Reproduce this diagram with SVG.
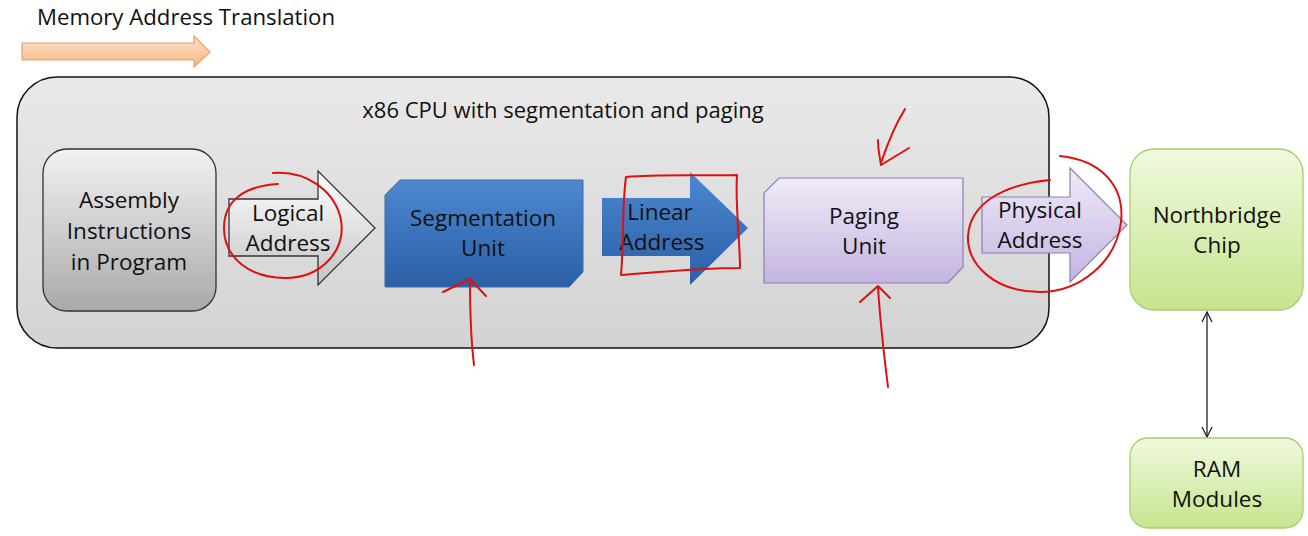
<svg xmlns="http://www.w3.org/2000/svg" width="1308" height="536" viewBox="0 0 1308 536">
<defs>
<linearGradient id="gCont" x1="0" y1="0" x2="0" y2="1"><stop offset="0" stop-color="#e9e9e9"/><stop offset="1" stop-color="#d3d3d3"/></linearGradient>
<linearGradient id="gAsm" x1="0" y1="0" x2="0" y2="1"><stop offset="0" stop-color="#f2f2f2"/><stop offset="1" stop-color="#a9a9a9"/></linearGradient>
<linearGradient id="gLog" x1="0" y1="0" x2="0" y2="1"><stop offset="0" stop-color="#ffffff"/><stop offset="1" stop-color="#c4c4c4"/></linearGradient>
<linearGradient id="gBlue" x1="0" y1="0" x2="0" y2="1"><stop offset="0" stop-color="#4d88d0"/><stop offset="1" stop-color="#2a5fa6"/></linearGradient>
<linearGradient id="gPurp" x1="0" y1="0" x2="0" y2="1"><stop offset="0" stop-color="#f0ebf8"/><stop offset="1" stop-color="#c4b4e0"/></linearGradient>
<linearGradient id="gGreen" x1="0" y1="0" x2="0" y2="1"><stop offset="0" stop-color="#f0f9de"/><stop offset="1" stop-color="#c6e48e"/></linearGradient>
<linearGradient id="gOrange" x1="0" y1="0" x2="0" y2="1"><stop offset="0" stop-color="#fde3cc"/><stop offset="1" stop-color="#f6b584"/></linearGradient>
<marker id="open" viewBox="0 0 12 12" refX="11" refY="6" markerWidth="12" markerHeight="12" orient="auto-start-reverse" markerUnits="userSpaceOnUse">
<path d="M1,1 L11,6 L1,11" fill="none" stroke="#222" stroke-width="1.3"/>
</marker>
</defs>
<style>
text{font-family:"Open Sans","Liberation Sans",sans-serif;fill:#111;}
.lbl{font-size:22.5px;text-anchor:middle;}
.red{fill:none;stroke:#e01010;stroke-width:2;stroke-linecap:round;stroke-linejoin:round;}
</style>
<rect width="1308" height="536" fill="#ffffff"/>

<g id="header">
<text x="37" y="25" style="font-size:22.2px">Memory Address Translation</text>
<path d="M22,43 H194 V36 L210,52 L194,67 V60 H22 Z" fill="url(#gOrange)" stroke="#eba06a" stroke-width="1.2"/>
</g>

<g id="cpu">
<rect x="17" y="77" width="1032" height="271" rx="40" fill="url(#gCont)" stroke="#111" stroke-width="1.5"/>
<text x="563" y="118" class="lbl" style="font-size:22px">x86 CPU with segmentation and paging</text>
</g>

<g id="assembly">
<rect x="43" y="149" width="173" height="162" rx="24" fill="url(#gAsm)" stroke="#333" stroke-width="1.3"/>
<text class="lbl"><tspan x="129" y="208">Assembly</tspan><tspan x="129" y="239">Instructions</tspan><tspan x="129" y="270">in Program</tspan></text>
</g>

<g id="connectors">
<g id="logical">
<path d="M229,199 H318 V171 L375,228 L318,285 V256 H229 Z" fill="url(#gLog)" stroke="#333" stroke-width="1.3"/>
<text class="lbl"><tspan x="288" y="221">Logical</tspan><tspan x="288" y="251">Address</tspan></text>
</g>
<g id="linear">
<path d="M602,198 H690 V172 L748,228 L690,285 V256 H602 Z" fill="url(#gBlue)"/>
<text class="lbl"><tspan x="660" y="220">Linear</tspan><tspan x="662" y="250">Address</tspan></text>
</g>
<g id="physical">
<path d="M982,197 H1070 V168 L1127,225 L1070,282 V253 H982 Z" fill="url(#gPurp)" stroke="#8d7fb5" stroke-width="1.2"/>
<text class="lbl"><tspan x="1040" y="218">Physical</tspan><tspan x="1040" y="248">Address</tspan></text>
</g>
<line x1="1207" y1="312" x2="1207" y2="437" stroke="#222" stroke-width="1.3" marker-start="url(#open)" marker-end="url(#open)"/>
</g>

<g id="segmentation">
<path d="M400,180 H583 V272 L569,287 H385 V195 Z" fill="url(#gBlue)" stroke="#3a6cae" stroke-width="1"/>
<text class="lbl"><tspan x="483" y="226">Segmentation</tspan><tspan x="483" y="256">Unit</tspan></text>
</g>

<g id="paging">
<path d="M779,178 H963 V267 L948,283 H764 V193 Z" fill="url(#gPurp)" stroke="#8d7fb5" stroke-width="1.2"/>
<text class="lbl"><tspan x="864" y="224">Paging</tspan><tspan x="864" y="254">Unit</tspan></text>
</g>

<g id="northbridge">
<rect x="1130" y="149" width="173" height="161" rx="24" fill="url(#gGreen)" stroke="#a9cc6e" stroke-width="1.3"/>
<text class="lbl"><tspan x="1217" y="223">Northbridge</tspan><tspan x="1217" y="253">Chip</tspan></text>
</g>

<g id="ram">
<rect x="1130" y="438" width="173" height="90" rx="18" fill="url(#gGreen)" stroke="#a9cc6e" stroke-width="1.3"/>
<text class="lbl"><tspan x="1217" y="477">RAM</tspan><tspan x="1217" y="507">Modules</tspan></text>
</g>

<g id="annotations">
<path class="red" d="M273,173 C305,170 335,190 341,220 C346,250 322,278 285,278 C250,278 224,258 224,228 C224,200 245,186 278,184"/>
<path class="red" d="M626,177 C660,174 700,176 737,175 C735,205 740,240 740,268 C700,268 660,272 621,275 C624,240 622,205 626,177"/>
<path class="red" d="M474,365 C471,340 470,310 470,281 M443,292 L470,279 L486,296"/>
<path class="red" d="M888,387 C884,355 880,320 878,287 M860,302 L878,286 L890,298"/>
<path class="red" d="M905,109 C895,125 887,145 881,163 M878,140 C878,150 880,158 881,165 L909,148"/>
<path class="red" d="M1060,156 C1100,160 1125,185 1121,222 C1116,262 1080,292 1040,292 C995,292 967,265 968,236 C970,205 1000,185 1050,180"/>
</g>
</svg>
